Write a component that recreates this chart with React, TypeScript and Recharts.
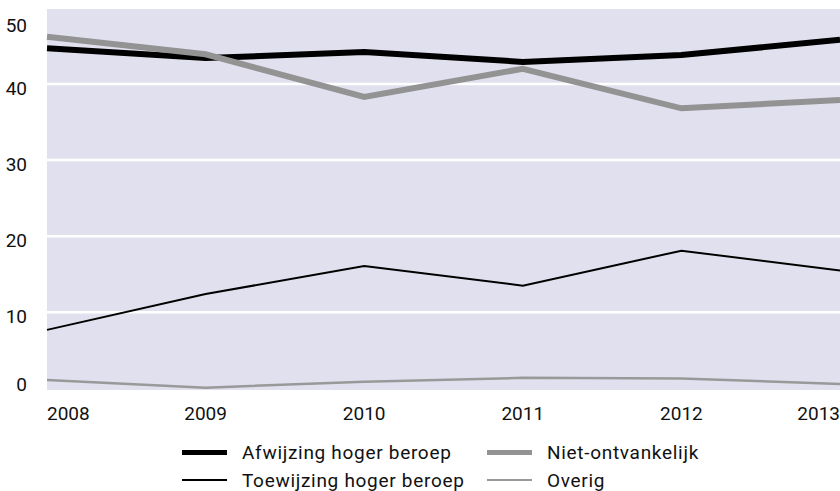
import React from "react";
import { LineChart, Line, XAxis, YAxis, CartesianGrid } from "recharts";

const years = ["2008", "2009", "2010", "2011", "2012", "2013"];
const afwijzing = [44.7, 43.4, 44.2, 42.9, 43.8, 45.8];
const nietOntvankelijk = [46.2, 43.9, 38.3, 42.0, 36.8, 37.9];
const toewijzing = [7.7, 12.4, 16.1, 13.5, 18.1, 15.5];
const overig = [1.1, 0.1, 0.9, 1.4, 1.3, 0.6];
const yTicks = [0, 10, 20, 30, 40, 50];
const gridValues = [10, 20, 30, 40];

const data = years.map((y, i) => ({
  year: y,
  afwijzing: afwijzing[i],
  niet: nietOntvankelijk[i],
  toewijzing: toewijzing[i],
  overig: overig[i],
}));

const FONT = "Roboto, 'Liberation Sans', Arial, sans-serif";
const FS = 19;

const XTick = (props: any) => {
  const { x, y, payload, index } = props;
  const anchor = index === 0 ? "start" : index === years.length - 1 ? "end" : "middle";
  return (
    <text x={x} y={y} dy={22} textAnchor={anchor} fontSize={FS} fill="#111" fontFamily={FONT}>
      {payload.value}
    </text>
  );
};

const YTick = (props: any) => {
  const { y, payload } = props;
  const v = payload.value;
  const off = v === 0 ? -4 : v === 50 ? 16 : 4;
  return (
    <text x={27} y={y + off} dy={7} textAnchor="end" fontSize={FS} fill="#111" fontFamily={FONT}>
      {v}
    </text>
  );
};

const legendItems = [
  { label: "Afwijzing hoger beroep", color: "#000", w: 5, left: 182, top: 452 },
  { label: "Niet-ontvankelijk", color: "#939393", w: 5, left: 487, top: 452 },
  { label: "Toewijzing hoger beroep", color: "#000", w: 2, left: 182, top: 480 },
  { label: "Overig", color: "#999", w: 2, left: 487, top: 480 },
];

export default function App() {
  return (
    <div style={{ position: "absolute", left: 0, top: 0, width: 840, height: 491, background: "#fff" }}>
      <LineChart
        width={840}
        height={491}
        data={data}
        margin={{ top: 9, right: 0, bottom: 0, left: 0 }}
      >
        <CartesianGrid
          vertical={false}
          horizontalValues={gridValues}
          stroke="#ffffff"
          strokeWidth={2.5}
          fill="#e1e0ef"
          fillOpacity={1}
        />
        <XAxis
          dataKey="year"
          axisLine={false}
          tickLine={false}
          height={101}
          tick={<XTick />}
          interval={0}
        />
        <YAxis
          domain={[-0.2, 49.85]}
          ticks={yTicks}
          allowDataOverflow
          axisLine={false}
          tickLine={false}
          width={47}
          tick={<YTick />}
        />
        <Line dataKey="afwijzing" stroke="#000" strokeWidth={6} dot={false} isAnimationActive={false} />
        <Line dataKey="niet" stroke="#939393" strokeWidth={6} dot={false} isAnimationActive={false} />
        <Line dataKey="toewijzing" stroke="#000" strokeWidth={2} dot={false} isAnimationActive={false} />
        <Line dataKey="overig" stroke="#999" strokeWidth={2.5} dot={false} isAnimationActive={false} />
      </LineChart>
      {legendItems.map((it) => (
        <div
          key={it.label}
          style={{
            position: "absolute",
            left: it.left,
            top: it.top - 13,
            height: 26,
            display: "flex",
            alignItems: "center",
            fontFamily: FONT,
            fontSize: FS,
            letterSpacing: 0.7,
            color: "#111",
            whiteSpace: "nowrap",
          }}
        >
          <span style={{ display: "inline-block", width: 45, height: it.w, background: it.color, marginRight: 15 }} />
          <span>{it.label}</span>
        </div>
      ))}
    </div>
  );
}
